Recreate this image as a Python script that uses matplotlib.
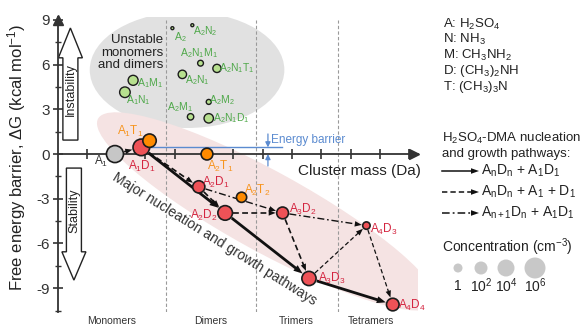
import re
import numpy as np
import matplotlib
matplotlib.use("Agg")
import matplotlib.pyplot as plt
import matplotlib.transforms as mtransforms
from matplotlib.patches import Ellipse, FancyArrow, Polygon
from matplotlib.ticker import MultipleLocator, FuncFormatter

plt.rcParams['font.family'] = ['Liberation Sans', 'DejaVu Sans']
plt.rcParams['mathtext.fontset'] = 'custom'
plt.rcParams['mathtext.rm'] = 'Liberation Sans'
plt.rcParams['mathtext.it'] = 'Liberation Sans:italic'
plt.rcParams['mathtext.bf'] = 'Liberation Sans:bold'

# H2SO4-base clusters on the main pathway (mass in Da, dG in kcal/mol, log10 conc in cm-3)
names = ["A1", "A1D1", "A1T1", "A2T1", "A2D1", "A2T2", "A2D2", "A3D2", "A4D3", "A3D3", "A4D4"]
mass  = [98, 143, 157, 255, 241, 314, 286, 384, 527, 429, 572]
dG    = [0.0, 0.45, 0.9, 0.0, -2.2, -2.9, -3.95, -3.95, -4.8, -8.35, -10.1]
logc  = [4.0, 3.8, 2.2, 1.4, 1.6, 0.6, 2.8, 1.4, -0.8, 2.6, 1.8]
kind  = ["A", "D", "T", "T", "D", "T", "D", "D", "D", "D", "D"]

# unstable monomers and dimers
u_names = ["A2", "A2N2", "A2N1M1", "A2N1T1", "A2N1", "A1M1", "A1N1", "A2M1", "A2M2", "A2N1D1"]
u_mass  = [196, 230, 244, 272, 213, 129, 115, 227, 258, 258]
u_dG    = [8.45, 8.65, 6.1, 5.75, 5.35, 4.95, 4.15, 2.5, 3.5, 2.4]
u_logc  = [-3.0, -3.0, -1.6, -0.4, -0.3, 0.5, 0.8, -1.3, -2.0, 0.2]

# pathways
solid_edges   = [("A1D1", "A2D2"), ("A2D2", "A3D3"), ("A3D3", "A4D4")]
dashed_edges  = [("A1", "A1D1"), ("A1D1", "A2D1"), ("A2D1", "A2D2"), ("A2D2", "A3D2"),
                 ("A3D2", "A3D3"), ("A3D3", "A4D3"), ("A4D3", "A4D4")]
dashdot_edges = [("A2D1", "A3D2"), ("A3D2", "A4D3")]

groups     = ["Monomers", "Dimers", "Trimers", "Tetramers"]
group_x    = [92, 262, 408, 535]
group_sep  = [185, 338, 478]
conc_legend = [0, 2, 4, 6]
yticks = [-9, -6, -3, 0, 3, 6, 9]

fill = {"A": "#c6c6c6", "D": "#ee5257", "T": "#ff8a00"}
lcol = {"A": "#333333", "D": "#d4243f", "T": "#f7941e"}
green_fill, green_txt = "#b7e08f", "#4fa84a"
edge = "#1c1c1c"

def chem(s):
    return re.sub(r'(\d+)', r'$_{\1}$', s)

def diam(lc):
    return max(9 + 2 * lc, 2.5)

fig = plt.figure(figsize=(5.84, 3.25), dpi=100)
ax = fig.add_axes([57.5 / 584, 13 / 325, 360.5 / 584, 295 / 325])
ax.set_xlim(0, 615)
ax.set_ylim(-10.6, 9.2)
ax.patch.set_alpha(0)
for s in ["top", "right"]:
    ax.spines[s].set_visible(False)
ax.spines["bottom"].set_position(("data", 0))
for s in ["left", "bottom"]:
    ax.spines[s].set_linewidth(1.3)
    ax.spines[s].set_color("#333333")
ax.set_xticks(np.arange(50, 601, 50))
ax.set_xticklabels([])
ax.set_yticks(yticks)
ax.yaxis.set_minor_locator(MultipleLocator(1.5))
ax.yaxis.set_major_formatter(FuncFormatter(lambda v, p: f"{int(v)}"))
ax.tick_params(axis="x", direction="inout", length=7, width=1.2, color="#333333")
ax.tick_params(axis="y", which="major", direction="inout", length=7, width=1.2,
               color="#333333", labelsize=11, pad=2, labelcolor="#333333")
ax.tick_params(axis="y", which="minor", direction="inout", length=5, width=1.0, color="#333333")
ax.plot(608, 0, marker=">", ms=7, color="#333333", clip_on=False, zorder=3)
ax.plot(0, 9.0, marker="^", ms=7, color="#333333", clip_on=False, zorder=3)

# shaded regions
ax.add_patch(Ellipse((221, 5.65), 332, 7.8, fc="#e1e1e1", ec="none", zorder=0))
pink_tr = fig.dpi_scale_trans + mtransforms.ScaledTranslation(357, -3.85, ax.transData)
ax.add_patch(Ellipse((0, 0), 3.85, 0.8, angle=-28.8, fc="#f5e3e3", ec="none",
                     transform=pink_tr, zorder=0))

for xs in group_sep:
    ax.plot([xs, xs], [-10.6, 9.0], ls=(0, (3, 2)), lw=0.8, color="#9a9a9a", zorder=1)

# hollow stability arrows
ax.add_patch(FancyArrow(22, 0.94, 0, 7.52, width=25.6, head_width=41, head_length=2.0,
                        length_includes_head=True, fc="white", ec="#222222", lw=1.0, zorder=2))
ax.add_patch(FancyArrow(28, -0.94, 0, -7.52, width=25.6, head_width=41, head_length=1.9,
                        length_includes_head=True, fc="white", ec="#222222", lw=1.0, zorder=2))
ax.text(22, 4.3, "Instability", rotation=90, ha="center", va="center", fontsize=9, color="#222222", zorder=3)
ax.text(28, -3.8, "Stability", rotation=90, ha="center", va="center", fontsize=9, color="#222222", zorder=3)

# energy barrier
i1 = names.index("A1D1")
blue = "#5b8bd0"
ax.plot([mass[i1], 383], [dG[i1], dG[i1]], color=blue, lw=1.0, zorder=2)
ax.annotate("", xy=(359, dG[i1]), xytext=(359, 1.35),
            arrowprops=dict(arrowstyle="-|>,head_length=0.3,head_width=0.15", color=blue, lw=0.9, shrinkA=0, shrinkB=0))
ax.annotate("", xy=(359, 0), xytext=(359, -0.8),
            arrowprops=dict(arrowstyle="-|>,head_length=0.3,head_width=0.15", color=blue, lw=0.9, shrinkA=0, shrinkB=0))
ax.text(365, 0.95, "Energy barrier", color=blue, fontsize=8.5, va="center", ha="left")

ax.text(515, -1.15, "Cluster mass (Da)", fontsize=11, ha="center", va="center", color="#222222")
ax.text(268, -5.7, "Major nucleation and growth pathways", fontsize=10, rotation=-32,
        rotation_mode="anchor", ha="center", va="center", color="#333333")

# pathway arrows
inv = ax.transData.inverted()
ident = mtransforms.IdentityTransform()

def draw_edge(n0, n1, ls, lw, hl, hw):
    i, j = names.index(n0), names.index(n1)
    a = ax.transData.transform((mass[i], dG[i]))
    b = ax.transData.transform((mass[j], dG[j]))
    u = (b - a) / np.hypot(*(b - a))
    nrm = np.array([-u[1], u[0]])
    start = a + u * (diam(logc[i]) / 2 + 1)
    tip = b - u * (diam(logc[j]) / 2 + 1)
    base = tip - u * hl
    pts = inv.transform([start, base + u])
    ax.plot(pts[:, 0], pts[:, 1], ls=ls, lw=lw, color="#111111", zorder=3, solid_capstyle="butt")
    ax.add_patch(Polygon([tip, base + nrm * hw / 2, base - nrm * hw / 2], closed=True,
                         transform=ident, fc="#111111", ec="none", zorder=3, clip_on=False))

for e in solid_edges:
    draw_edge(*e, "-", 2.0, 9, 7)
for e in dashed_edges:
    w = 0.9 if "A4D3" in e else 1.2
    draw_edge(*e, (0, (3.5, 2)), w, 7, 5.5)
for e in dashdot_edges:
    draw_edge(*e, (0, (5, 2, 1.2, 2)), 1.0, 7, 5.5)

# markers
ax.scatter(u_mass, u_dG, s=[(diam(c) * 0.72) ** 2 for c in u_logc], c=green_fill,
           edgecolors=edge, linewidths=1.0, zorder=4)
ax.scatter(mass, dG, s=[(diam(c) * 0.72) ** 2 for c in logc], c=[fill[k] for k in kind],
           edgecolors=edge, linewidths=1.2, zorder=4)

# labels (offset in pixels, y down)
lab_off = {"A1": (-14, 7), "A1D1": (1, 19), "A1T1": (-19, -9), "A2T1": (13, 12),
           "A2D1": (17, -4), "A2T2": (16, -7), "A2D2": (-21, 3), "A3D2": (20, -3),
           "A4D3": (17, 4), "A3D3": (23, 0), "A4D4": (19, 1)}
for n, x, y, k in zip(names, mass, dG, kind):
    dx, dy = lab_off[n]
    ax.annotate(chem(n), (x, y), xytext=(dx, -dy), textcoords="offset pixels",
                ha="center", va="center", fontsize=8.5, color=lcol[k], zorder=5)

u_off = {"A2": (8, 9), "A2N2": (13, 6), "A2N1M1": (-2, -10), "A2N1T1": (20, 0),
         "A2N1": (15, 6), "A1M1": (17, 3), "A1N1": (13, 8), "A2M1": (-11, -10),
         "A2M2": (13, -2), "A2N1D1": (23, 0)}
for n, x, y in zip(u_names, u_mass, u_dG):
    dx, dy = u_off[n]
    ax.annotate(chem(n), (x, y), xytext=(dx, -dy), textcoords="offset pixels",
                ha="center", va="center", fontsize=7.5, color=green_txt, zorder=5)

ax.text(180, 6.8, "Unstable\nmonomers\nand dimers", ha="right", va="center",
        fontsize=9.5, color="#222222", linespacing=1.05, zorder=5)

# overlay in pixel coordinates for side legends and outside text
lax = fig.add_axes([0, 0, 1, 1])
lax.set_xlim(0, 584)
lax.set_ylim(325, 0)
lax.axis("off")
lax.patch.set_alpha(0)

lax.text(17, 157, r"Free energy barrier, $\Delta$G (kcal mol$^{-1}$)", rotation=90,
         ha="center", va="center", fontsize=12, color="#222222")
for g, gx in zip(groups, group_x):
    lax.text(57.5 + gx * 0.5862, 321, g, ha="center", va="center", fontsize=7.5, color="#333333")

chem_lines = ["A: H$_2$SO$_4$", "N: NH$_3$", "M: CH$_3$NH$_2$", "D: (CH$_3$)$_2$NH", "T: (CH$_3$)$_3$N"]
for k, t in enumerate(chem_lines):
    lax.text(443, 24 + k * 15.8, t, ha="left", va="center", fontsize=9.5, color="#222222")

lax.text(442, 138, "H$_2$SO$_4$-DMA nucleation", ha="left", va="center", fontsize=9.5, color="#222222")
lax.text(442, 154, "and growth pathways:", ha="left", va="center", fontsize=9.5, color="#222222")
leg_txt = ["A$_{\\mathregular{n}}$D$_{\\mathregular{n}}$ + A$_1$D$_1$",
           "A$_{\\mathregular{n}}$D$_{\\mathregular{n}}$ + A$_1$ + D$_1$",
           "A$_{\\mathregular{n+1}}$D$_{\\mathregular{n}}$ + A$_1$D$_1$"]
leg_ls = ["-", (0, (3.5, 2)), (0, (5, 2, 1.2, 2))]
for k, (t, ls) in enumerate(zip(leg_txt, leg_ls)):
    y = 171 + k * 21
    lax.plot([442, 472], [y, y], ls=ls, lw=1.1, color="#111111")
    lax.add_patch(Polygon([[479, y], [471, y - 2.8], [471, y + 2.8]], closed=True, fc="#111111", ec="none"))
    lax.text(481, y, t, ha="left", va="center", fontsize=10, color="#222222")

lax.text(442, 247, "Concentration (cm$^{-3}$)", ha="left", va="center", fontsize=10, color="#222222")
cx = [458, 481, 506, 535]
lax.scatter(cx, [268] * 4, s=[(diam(c) * 0.72) ** 2 for c in conc_legend], c="#c8c8c8", edgecolors="none")
for x, c in zip(cx, conc_legend):
    lab = "1" if c == 0 else f"10$^{c}$"
    lax.text(x, 286, lab, ha="center", va="center", fontsize=10, color="#222222")

fig.savefig("out.png", dpi=100)
